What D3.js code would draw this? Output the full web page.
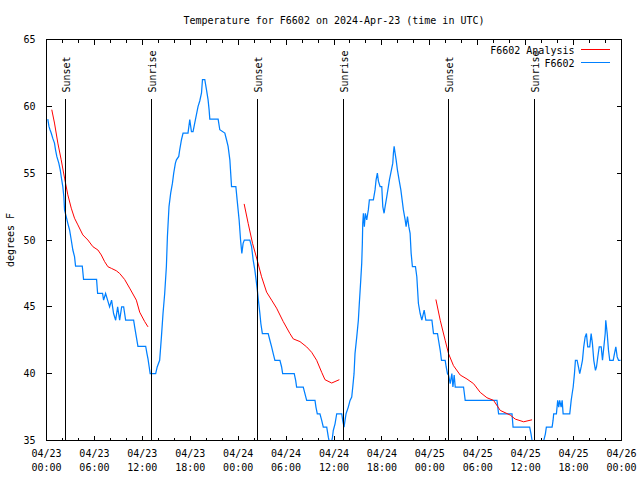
<!DOCTYPE html>
<html><head><meta charset="utf-8">
<script src="https://cdn.jsdelivr.net/npm/d3@7"></script>
<style>
html,body{margin:0;padding:0;background:#fff;}
svg{display:block;}
text{font-family:"DejaVu Sans Mono","Liberation Mono",monospace;font-size:10px;fill:#000;}
</style></head><body>
<svg id="chart" width="640" height="480"></svg>
<script>
// ---------------- data ----------------
const title = "Temperature for F6602 on 2024-Apr-23 (time in UTC)";
const yLabel = "degrees F";
const seriesNames = ["F6602 Analysis", "F6602"];
const seriesColors = ["#ff0000", "#0080ff"];
const startUTC = Date.UTC(2024, 3, 23, 0, 0);
const endUTC = Date.UTC(2024, 3, 26, 0, 0);
const yTicks = [35, 40, 45, 50, 55, 60, 65];
const sunLabels = ["Sunset", "Sunrise", "Sunset", "Sunrise", "Sunset", "Sunrise"];
const sunHours = [2.38, 13.15, 26.42, 37.19, 50.34, 61.10];

// analysis (hours since 04/23 00:00 UTC, deg F)
const analysis1 = [[0.66,59.75],[1.00,58.75],[1.42,57.25],[1.84,56.0],[2.26,54.63],[2.67,53.38],[3.10,52.38],[3.51,51.63],[3.93,51.13],[4.55,50.38],[5.18,50.0],[5.81,49.5],[6.44,49.25],[6.86,48.88],[7.28,48.38],[7.69,48.0],[8.12,47.88],[8.74,47.7],[9.16,47.5],[9.78,47.05],[10.41,46.4],[11.25,45.5],[11.67,44.6],[12.29,43.9],[12.71,43.5]];
const analysis2 = [[24.75,52.7],[25.25,51.25],[25.80,49.75],[26.38,48.5],[26.93,47.25],[27.56,46.1],[28.19,45.5],[28.81,44.9],[29.64,43.9],[30.48,43.0],[30.90,42.6],[31.74,42.4],[32.58,42.0],[33.20,41.6],[33.83,41.0],[34.46,40.1],[34.87,39.55],[35.71,39.3],[36.67,39.55]];
const analysis3 = [[48.76,45.55],[49.30,44.0],[49.92,42.5],[50.34,41.5],[50.96,40.6],[51.80,39.9],[52.65,39.6],[53.48,39.25],[54.31,38.6],[55.15,38.2],[55.98,38.0],[56.82,37.25],[58.07,36.9],[58.70,36.6],[59.75,36.4],[60.80,36.55]];

// observations (hours since 04/23 00:00 UTC, deg F)
const observed = [[0.16,59.05],[0.31,58.5],[0.44,58.25],[0.59,58.0],[0.79,57.6],[1.00,57.25],[1.13,56.75],[1.29,56.25],[1.54,55.75],[1.72,55.25],[1.84,54.75],[2.04,54.0],[2.17,53.25],[2.26,52.25],[2.47,51.75],[2.67,51.25],[2.89,50.75],[3.10,50.0],[3.30,49.25],[3.51,48.75],[3.64,48.05],[4.48,48.05],[4.64,47.05],[6.27,47.05],[6.40,46.0],[7.02,46.0],[7.15,45.5],[7.40,46.0],[7.65,45.5],[7.90,45.0],[8.15,45.5],[8.40,44.5],[8.66,44.0],[8.91,45.0],[9.16,44.0],[9.41,45.0],[9.66,45.0],[9.91,44.0],[10.91,44.0],[11.04,43.5],[11.25,42.75],[11.45,42.05],[12.42,42.05],[12.58,41.5],[12.71,41.1],[12.86,40.5],[12.98,40.0],[13.67,40.0],[13.86,40.5],[14.17,41.0],[14.39,42.75],[14.59,44.5],[14.80,46.0],[15.01,48.0],[15.14,50.25],[15.34,52.5],[15.55,53.5],[15.77,54.25],[15.93,55.0],[16.14,55.75],[16.27,56.0],[16.56,56.25],[16.68,56.75],[16.90,57.5],[17.10,58.0],[17.72,58.0],[17.94,59.0],[18.15,58.1],[18.35,58.1],[18.56,58.75],[18.78,59.4],[18.98,60.0],[19.19,60.4],[19.41,61.0],[19.53,62.0],[19.82,62.0],[20.03,61.25],[20.23,60.5],[20.36,59.75],[20.45,59.05],[21.49,59.05],[21.70,58.25],[22.33,58.0],[22.54,57.5],[22.74,57.0],[22.96,56.0],[23.17,54.0],[23.71,54.0],[23.87,53.0],[24.12,51.5],[24.30,50.0],[24.46,49.0],[24.62,49.75],[24.77,50.0],[25.46,50.0],[25.68,49.5],[25.88,48.5],[26.09,47.75],[26.25,47.0],[26.40,46.25],[26.53,45.5],[26.72,44.5],[26.84,43.75],[27.03,43.0],[27.76,43.0],[27.97,42.5],[28.19,42.0],[28.39,41.5],[28.60,41.0],[29.23,41.0],[29.44,40.5],[29.57,40.0],[31.02,40.0],[31.20,39.5],[31.32,39.0],[32.15,39.0],[32.36,38.5],[32.58,38.0],[33.62,38.0],[33.74,37.5],[33.91,37.0],[34.24,37.0],[34.46,36.5],[34.66,36.0],[35.09,36.0],[35.29,35.25],[35.56,34.5],[35.81,35.25],[35.91,35.75],[36.13,36.25],[36.34,37.0],[36.97,37.0],[37.09,36.5],[37.26,36.0],[37.38,36.5],[37.51,37.0],[37.79,37.5],[38.01,38.0],[38.22,38.25],[38.35,39.0],[38.51,40.0],[38.63,41.5],[38.85,42.75],[39.05,44.0],[39.17,45.25],[39.35,47.0],[39.47,48.25],[39.55,49.75],[39.60,51.25],[39.68,52.0],[39.80,51.0],[39.93,52.0],[40.10,51.5],[40.23,52.0],[40.30,52.25],[40.43,53.0],[40.93,53.0],[41.14,53.75],[41.27,54.5],[41.43,55.0],[41.56,54.4],[41.77,54.0],[41.98,54.0],[42.11,52.5],[42.27,52.0],[42.40,52.5],[42.61,53.25],[42.81,54.0],[42.94,54.5],[43.11,55.0],[43.36,55.75],[43.44,56.5],[43.53,57.0],[43.65,56.5],[43.78,56.0],[43.94,55.25],[44.15,54.5],[44.37,53.75],[44.53,53.0],[44.69,52.25],[44.91,51.5],[45.03,51.0],[45.20,51.75],[45.37,51.0],[45.53,50.5],[45.66,49.0],[45.82,48.0],[46.20,48.0],[46.37,47.25],[46.57,45.25],[46.79,44.5],[47.00,44.0],[47.29,44.75],[47.50,44.0],[48.26,44.0],[48.46,43.0],[48.96,43.0],[49.09,42.5],[49.30,41.75],[49.46,41.0],[49.92,41.0],[50.05,40.5],[50.21,40.0],[50.34,39.9],[50.55,39.25],[50.76,40.0],[50.89,39.0],[51.05,39.9],[51.18,39.0],[52.22,39.0],[52.43,38.0],[56.41,38.0],[56.61,37.0],[58.29,37.0],[58.42,36.0],[60.50,36.0],[60.67,35.5],[60.80,35.0],[60.90,34.5],[62.15,34.5],[62.26,35.0],[62.47,35.5],[62.59,36.0],[63.31,36.0],[63.43,36.5],[63.51,37.0],[63.85,37.0],[64.01,38.0],[64.14,37.5],[64.26,38.0],[64.44,37.5],[64.57,38.0],[64.69,37.0],[65.52,37.0],[65.70,38.0],[65.82,38.5],[65.95,39.0],[66.11,40.0],[66.23,41.0],[66.44,41.0],[66.61,40.5],[66.77,40.0],[66.95,40.5],[67.11,41.0],[67.27,42.0],[67.45,42.75],[67.61,43.0],[67.77,42.0],[68.02,42.0],[68.20,43.0],[68.36,42.25],[68.53,41.0],[68.74,40.25],[68.87,40.5],[69.03,41.25],[69.21,42.0],[69.46,42.0],[69.62,41.0],[69.79,42.0],[69.96,43.0],[70.03,44.0],[70.21,43.0],[70.37,41.75],[70.53,41.0],[70.96,41.0],[71.12,41.5],[71.29,42.0],[71.46,41.25],[71.63,41.0],[71.88,41.0]];

// ---------------- drawing ----------------
const svg = d3.select("#chart");
const L = 46.5, R = 621.5, T = 39.5, B = 440.5;
const toDate = h => new Date(startUTC + h * 3600e3);
const x = d3.scaleUtc().domain([new Date(startUTC), new Date(endUTC)]).range([L, R]);
const y = d3.scaleLinear().domain([35, 65]).range([B, T]);

svg.append("rect").attr("width", 640).attr("height", 480).attr("fill", "#fff");

const allTicks = d3.utcHour.every(2).range(new Date(startUTC), new Date(endUTC + 1));
const majorTicks = allTicks.filter(d => d.getUTCHours() % 6 === 0);
const minorTicks = allTicks.filter(d => d.getUTCHours() % 6 !== 0);
const fmtD = d3.utcFormat("%m/%d"), fmtT = d3.utcFormat("%H:%M");

function clean(g) { g.select(".domain").remove(); g.attr("shape-rendering", "crispEdges"); }

// bottom axis
svg.append("g").attr("transform", `translate(0,${B})`)
  .call(d3.axisBottom(x).tickValues(minorTicks).tickSize(-3).tickSizeOuter(0).offset(0).tickFormat(""))
  .call(clean);
svg.append("g").attr("transform", `translate(0,${B})`)
  .call(d3.axisBottom(x).tickValues(majorTicks).tickSize(-5).tickSizeOuter(0).offset(0).tickFormat(""))
  .call(clean)
  .call(g => g.selectAll(".tick text").each(function(d) {
    const t = d3.select(this).attr("y", null).attr("dy", null).attr("text-anchor", "middle");
    t.append("tspan").attr("x", 0).attr("y", 16.5).text(fmtD(d));
    t.append("tspan").attr("x", 0).attr("y", 30.5).text(fmtT(d));
  }));
// top axis
svg.append("g").attr("transform", `translate(0,${T})`)
  .call(d3.axisTop(x).tickValues(minorTicks).tickSize(-3).tickSizeOuter(0).offset(0).tickFormat(""))
  .call(clean);
svg.append("g").attr("transform", `translate(0,${T})`)
  .call(d3.axisTop(x).tickValues(majorTicks).tickSize(-5).tickSizeOuter(0).offset(0).tickFormat(""))
  .call(clean);
// left axis
svg.append("g").attr("transform", `translate(${L},0)`)
  .call(d3.axisLeft(y).tickValues(yTicks).tickSize(-5).tickSizeOuter(0).offset(0).tickPadding(11).tickFormat(d3.format("d")))
  .call(clean)
  .call(g => g.selectAll(".tick text").attr("dy", "0.35em"));
// right axis
svg.append("g").attr("transform", `translate(${R},0)`)
  .call(d3.axisRight(y).tickValues(yTicks).tickSize(-5).tickSizeOuter(0).offset(0).tickFormat(""))
  .call(clean);

// clip
svg.append("clipPath").attr("id", "plotclip").append("rect")
  .attr("x", L).attr("y", T).attr("width", R - L).attr("height", B - T);

const line = d3.line().x(d => x(toDate(d[0]))).y(d => y(d[1]));
const plot = svg.append("g").attr("clip-path", "url(#plotclip)");

plot.append("path").datum(observed).attr("d", line)
  .attr("fill", "none").attr("stroke", seriesColors[1]).attr("stroke-width", 1.25);
[analysis1, analysis2, analysis3].forEach(seg => {
  plot.append("path").datum(seg).attr("d", line)
    .attr("fill", "none").attr("stroke", seriesColors[0]).attr("stroke-width", 1);
});

// sunrise / sunset markers
sunHours.forEach((h, i) => {
  const px = Math.floor(x(toDate(h))) + 0.5;
  svg.append("line").attr("x1", px).attr("x2", px).attr("y1", 99).attr("y2", B)
    .attr("stroke", "#000").attr("stroke-width", 1).attr("shape-rendering", "crispEdges");
  svg.append("text").attr("transform", `translate(${px + 4.5},92.5) rotate(-90)`)
    .attr("text-anchor", "start").text(sunLabels[i]);
});

// frame
svg.append("rect").attr("x", L).attr("y", T).attr("width", R - L).attr("height", B - T)
  .attr("fill", "none").attr("stroke", "#000").attr("shape-rendering", "crispEdges");

// title and axis label
svg.append("text").attr("x", (L + R) / 2).attr("y", 24).attr("text-anchor", "middle").text(title);
svg.append("text").attr("transform", "translate(14,240) rotate(-90)").attr("text-anchor", "middle").text(yLabel);

// legend
const legY = [49.5, 62.5];
seriesNames.forEach((n, i) => {
  svg.append("text").attr("x", 574.5).attr("y", legY[i] + 4).attr("text-anchor", "end").text(n);
  svg.append("line").attr("x1", 581).attr("x2", 610).attr("y1", legY[i]).attr("y2", legY[i])
    .attr("stroke", seriesColors[i]).attr("stroke-width", i === 1 ? 1.5 : 1).attr("shape-rendering", "crispEdges");
});
</script>
</body></html>
